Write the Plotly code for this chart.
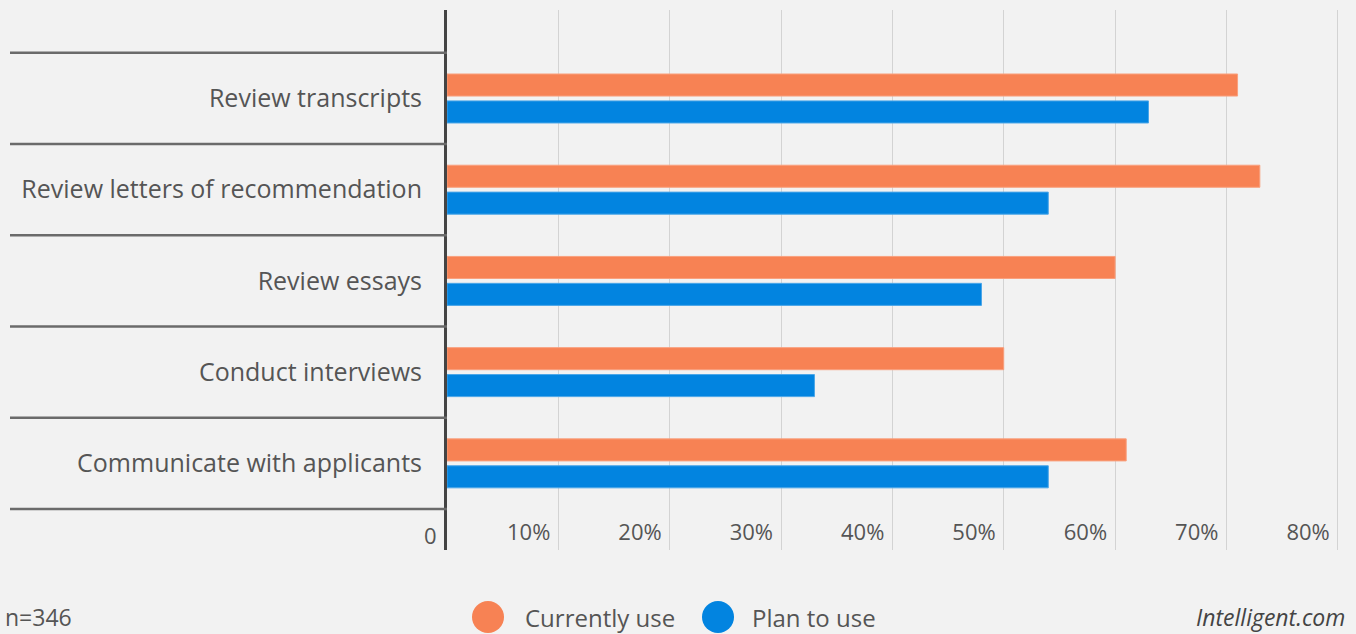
import plotly.graph_objects as go

categories = ["Review transcripts", "Review letters of recommendation", "Review essays",
              "Conduct interviews", "Communicate with applicants"]
currently_use = [71, 73, 60, 50, 61]
plan_to_use = [63, 54, 48, 33, 54]
tick_vals = [0, 10, 20, 30, 40, 50, 60, 70, 80]
tick_text = ["0", "10%", "20%", "30%", "40%", "50%", "60%", "70%", "80%"]
series_names = ["Currently use", "Plan to use"]

ORANGE = "#F78254"
BLUE = "#0284E0"
TEXT = "#555555"
FONT = "Open Sans, Lato, sans-serif"

W, H = 1356, 634
ML, MR, MT, MB = 447, 16, 10, 84
PW = W - ML - MR
PH = H - MT - MB

fig = go.Figure()
fig.add_trace(go.Bar(y=categories, x=currently_use, orientation="h", name=series_names[0],
                     marker=dict(color=ORANGE, line=dict(color="#F9A07E", width=1)), showlegend=False))
fig.add_trace(go.Bar(y=categories, x=plan_to_use, orientation="h", name=series_names[1],
                     marker=dict(color=BLUE, line=dict(color="#4BA6E8", width=1)), showlegend=False))

# y range: categories at 0..4 (reversed), with extra space above and below
y_top, y_bot = -0.97, 4.95

def ypaper(v):
    return (y_bot - v) / (y_bot - y_top)

def px2x(px):
    return (px - ML) / PW

def py2y(py):
    return (H - MB - py) / PH

shapes = []
x_left = px2x(10)
for k in range(len(categories) + 1):
    yp = ypaper(k - 0.5)
    shapes.append(dict(type="line", xref="paper", yref="paper", x0=x_left, x1=0, y0=yp, y1=yp,
                       line=dict(color="#6b6b6b", width=2.5)))

annotations = []
leg_y = 617
for cx, col, label, tx in [(488, ORANGE, series_names[0], 523), (718, BLUE, series_names[1], 750)]:
    shapes.append(dict(type="circle", xref="paper", yref="paper",
                       x0=px2x(cx - 16), x1=px2x(cx + 16), y0=py2y(leg_y + 16), y1=py2y(leg_y - 16),
                       fillcolor=col, line=dict(width=0)))
    annotations.append(dict(text=label, xref="paper", yref="paper", x=px2x(tx), y=py2y(leg_y),
                            xanchor="left", yanchor="middle", showarrow=False,
                            font=dict(family=FONT, size=24, color=TEXT)))

annotations.append(dict(text="n=346", xref="paper", yref="paper", x=px2x(3), y=py2y(leg_y),
                        xanchor="left", yanchor="middle", showarrow=False,
                        font=dict(family=FONT, size=23, color=TEXT)))
annotations.append(dict(text="<i>Intelligent.com</i>", xref="paper", yref="paper", x=px2x(1347), y=py2y(leg_y),
                        xanchor="right", yanchor="middle", showarrow=False,
                        font=dict(family=FONT, size=23, color="#444444")))
# zero tick label (inside labels beyond the plot edge are hidden by plotly)
annotations.append(dict(text=tick_text[0], xref="x", yref="paper", x=tick_vals[0], y=py2y(535),
                        xanchor="right", yanchor="middle", xshift=-8, showarrow=False,
                        font=dict(family=FONT, size=22, color=TEXT)))

fig.update_layout(
    width=W, height=H,
    margin=dict(l=ML, r=MR, t=MT, b=MB),
    paper_bgcolor="#F2F2F2", plot_bgcolor="#F2F2F2",
    barmode="group", bargap=0.41, bargroupgap=0.18,
    shapes=shapes, annotations=annotations,
    showlegend=False,
    font=dict(family=FONT, color=TEXT),
)
fig.update_xaxes(range=[0, 80.2], tickvals=tick_vals[1:], ticktext=tick_text[1:],
                 ticklabelposition="inside left", ticklabelshift=-8,
                 showgrid=True, gridcolor="#D3D3D3", gridwidth=1,
                 zeroline=False, showline=False, ticks="",
                 tickfont=dict(family=FONT, size=22, color=TEXT))
fig.update_yaxes(range=[y_bot, y_top], showline=True, linecolor="#444444", linewidth=3,
                 showgrid=False, zeroline=False, ticks="", ticklabelstandoff=17,
                 tickfont=dict(family=FONT, size=25, color=TEXT))

fig.write_html("out.html", config={"displayModeBar": False},
               post_script="document.body.style.margin='0';document.body.style.overflow='hidden';")
